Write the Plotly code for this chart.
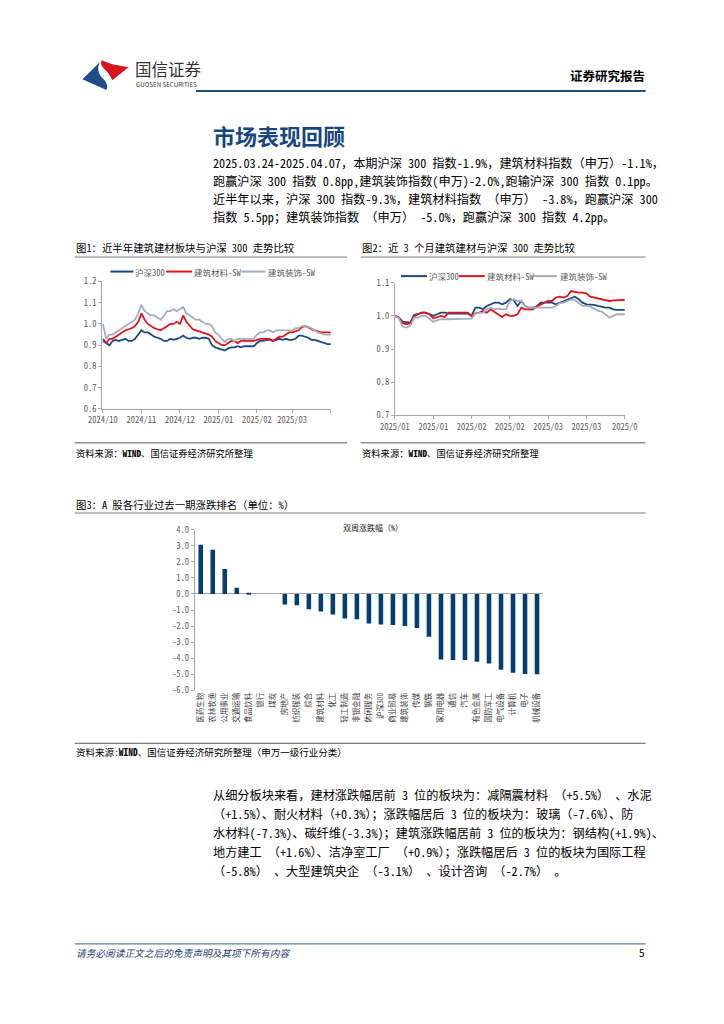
import plotly.graph_objects as go

W, H = 724, 1024
FONT = "Noto Sans CJK SC"
MONO = "Noto Sans Mono CJK SC, Noto Sans CJK SC"


def px(x):
    return x / W


def py(y):
    return 1 - y / H


# ---------------- data ----------------
series_names = ["沪深300", "建筑材料-SW", "建筑装饰-SW"]
series_colors = ["#1B4B7E", "#E0141F", "#A3ADBB"]

# Chart 1: last half year (relative index)
c1_hs300 = [0.93, 0.91, 0.90, 0.92, 0.925, 0.92, 0.925, 0.93, 0.92, 0.92, 0.93, 0.95,
            0.97, 0.96, 0.96, 0.95, 0.94, 0.935, 0.93, 0.92, 0.92, 0.93, 0.925, 0.93,
            0.935, 0.945, 0.935, 0.93, 0.935, 0.935, 0.93, 0.935, 0.935, 0.93, 0.90, 0.89,
            0.885, 0.88, 0.875, 0.885, 0.89, 0.89, 0.895, 0.89, 0.895, 0.895, 0.895, 0.895,
            0.91, 0.92, 0.92, 0.925, 0.925, 0.92, 0.925, 0.93, 0.925, 0.93, 0.925, 0.925,
            0.93, 0.945, 0.945, 0.94, 0.935, 0.925, 0.925, 0.92, 0.915, 0.91, 0.905, 0.905]
c1_jzcl = [0.92, 0.91, 0.93, 0.93, 0.94, 0.95, 0.96, 0.97, 0.975, 0.98, 0.99, 1.01,
           1.05, 1.02, 1.00, 0.99, 0.98, 0.975, 0.97, 0.98, 0.99, 1.00, 1.00, 1.01,
           1.00, 1.04, 1.01, 0.99, 0.975, 0.97, 0.965, 0.96, 0.955, 0.95, 0.94, 0.92,
           0.91, 0.90, 0.90, 0.91, 0.92, 0.92, 0.91, 0.92, 0.92, 0.92, 0.92, 0.92,
           0.925, 0.93, 0.93, 0.93, 0.93, 0.92, 0.93, 0.94, 0.94, 0.95, 0.96, 0.96,
           0.965, 0.97, 0.985, 0.99, 0.985, 0.975, 0.97, 0.965, 0.96, 0.96, 0.96, 0.96]
c1_jzzs = [1.00, 0.93, 0.95, 0.95, 0.96, 0.97, 0.98, 0.99, 1.00, 1.01, 1.02, 1.05,
           1.09, 1.06, 1.05, 1.04, 1.04, 1.03, 1.02, 1.04, 1.06, 1.06, 1.07, 1.06,
           1.07, 1.08, 1.05, 1.04, 1.03, 1.02, 1.02, 1.01, 1.00, 1.00, 0.99, 0.96,
           0.95, 0.93, 0.915, 0.93, 0.93, 0.92, 0.93, 0.93, 0.93, 0.93, 0.93, 0.93,
           0.95, 0.96, 0.96, 0.97, 0.97, 0.96, 0.97, 0.97, 0.97, 0.97, 0.97, 0.97,
           0.98, 0.98, 0.99, 0.99, 0.985, 0.98, 0.97, 0.96, 0.955, 0.95, 0.95, 0.95]
c1_tickidx = [0, 12, 24, 36, 48, 59, 71]
c1_ticktext = ["2024/10", "2024/11", "2024/12", "2025/01", "2025/02", "2025/03", ""]
c1_yvals = [0.6, 0.7, 0.8, 0.9, 1.0, 1.1, 1.2]

# Chart 2: last 3 months (relative index)
c2_hs300 = [1.000, 0.995, 0.983, 0.982, 0.980, 1.003, 1.005, 1.010, 1.010, 1.005, 1.000,
            1.005, 1.010, 1.010, 1.007, 1.007, 1.007, 1.007, 1.007, 1.007, 1.000, 1.025,
            1.025, 1.020, 1.030, 1.035, 1.040, 1.040, 1.035, 1.040, 1.050, 1.048, 1.030,
            1.045, 1.030, 1.025, 1.025, 1.028, 1.040, 1.040, 1.040, 1.040, 1.035, 1.040,
            1.045, 1.050, 1.055, 1.058, 1.050, 1.040, 1.035, 1.035, 1.033, 1.030, 1.027,
            1.025, 1.025, 1.020, 1.018, 1.018, 1.018]
c2_jzcl = [1.000, 0.995, 0.978, 0.975, 0.978, 0.998, 1.005, 1.010, 1.010, 1.005, 0.992,
           0.995, 1.000, 0.997, 1.010, 1.010, 1.010, 1.010, 1.010, 1.010, 1.000, 1.008,
           1.010, 1.015, 1.010, 1.020, 1.012, 1.005, 0.997, 1.005, 1.000, 1.000, 1.005,
           1.025, 1.020, 1.020, 1.020, 1.028, 1.035, 1.040, 1.045, 1.045, 1.055, 1.058,
           1.055, 1.060, 1.075, 1.072, 1.070, 1.070, 1.068, 1.058, 1.055, 1.052, 1.050,
           1.048, 1.045, 1.047, 1.048, 1.048, 1.048]
c2_jzzs = [1.000, 0.993, 0.968, 0.965, 0.970, 0.995, 0.995, 1.000, 1.000, 0.990, 0.982,
           0.987, 0.990, 0.990, 0.990, 0.990, 0.990, 0.990, 0.990, 0.990, 0.992, 1.008,
           1.010, 1.010, 1.020, 1.025, 1.020, 1.022, 1.020, 1.020, 1.045, 1.050, 1.045,
           1.045, 1.030, 1.025, 1.025, 1.025, 1.025, 1.025, 1.025, 1.025, 1.030, 1.038,
           1.040, 1.045, 1.050, 1.048, 1.038, 1.030, 1.030, 1.028, 1.022, 1.015, 1.013,
           1.005, 0.995, 1.000, 1.005, 1.005, 1.005]
c2_tickidx = [0, 10, 20, 30, 40, 50, 60]
c2_ticktext = ["2025/01", "2025/01", "2025/02", "2025/02", "2025/03", "2025/03", "2025/0"]
c2_yvals = [0.7, 0.8, 0.9, 1.0, 1.1]

# Chart 3: industry two-week change (%)
c3_industries = ["医药生物", "农林牧渔", "公用事业", "交通运输", "食品饮料", "银行", "煤炭",
                 "房地产", "纺织服装", "综合", "建筑材料", "化工", "轻工制造", "非银金融",
                 "休闲服务", "沪深300", "商业贸易", "建筑装饰", "传媒", "钢铁", "家用电器",
                 "通信", "汽车", "有色金属", "国防军工", "电气设备", "计算机", "电子", "机械设备"]
c3_values = [3.07, 2.76, 1.55, 0.39, 0.08, 0.0, 0.0,
             -0.66, -0.70, -0.95, -1.10, -1.28, -1.53, -1.57,
             -1.84, -1.90, -1.93, -2.00, -2.13, -2.67, -4.08,
             -4.12, -4.12, -4.22, -4.33, -4.72, -4.91, -4.99, -5.01]
c3_yvals = [4, 3, 2, 1, 0, -1, -2, -3, -4, -5, -6]

# ---------------- figure ----------------
fig = go.Figure()

c1_series = [c1_hs300, c1_jzcl, c1_jzzs]
c2_series = [c2_hs300, c2_jzcl, c2_jzzs]
for name, col, vals in zip(series_names, series_colors, c1_series):
    fig.add_trace(go.Scatter(x=list(range(len(vals))), y=vals, name=name, mode="lines",
                             line=dict(color=col, width=1.8), xaxis="x", yaxis="y",
                             showlegend=False))
for name, col, vals in zip(series_names, series_colors, c2_series):
    fig.add_trace(go.Scatter(x=list(range(len(vals))), y=vals, name=name, mode="lines",
                             line=dict(color=col, width=1.8), xaxis="x2", yaxis="y2",
                             showlegend=False))
fig.add_trace(go.Bar(x=c3_industries, y=c3_values, marker=dict(color="#033E73", line=dict(width=0)),
                     width=0.38, xaxis="x3", yaxis="y3", showlegend=False))

AX = "#A6A6A6"
TICKF = dict(family=MONO, size=8.5, color="#595959")


def fmt(v, nd=1):
    return f"{v:.{nd}f}"


common_x = dict(showline=True, linecolor=AX, linewidth=1, ticks="outside", ticklen=3,
                tickcolor=AX, showgrid=False, zeroline=False, tickfont=TICKF, fixedrange=True)
common_y = dict(showline=True, linecolor=AX, linewidth=1, ticks="outside", ticklen=3,
                tickcolor=AX, showgrid=False, tickfont=TICKF, fixedrange=True)

fig.update_layout(
    width=W, height=H, margin=dict(l=0, r=0, t=0, b=0, pad=0), autosize=False,
    paper_bgcolor="white", plot_bgcolor="rgba(0,0,0,0)",
    font=dict(family=FONT, color="#000000"),
    xaxis=dict(domain=[px(90.7), px(328.3)], range=[-0.2, 71.1], anchor="y",
               tickvals=c1_tickidx, ticktext=c1_ticktext, **common_x),
    yaxis=dict(domain=[py(406.7), py(277.7)], range=[0.6, 1.2], anchor="x",
               tickvals=c1_yvals, ticktext=[fmt(v) for v in c1_yvals], zeroline=False, **common_y),
    xaxis2=dict(domain=[px(394.7), px(633.7)], range=[0, 60.1], anchor="y2",
                tickvals=c2_tickidx, ticktext=c2_ticktext, **common_x),
    yaxis2=dict(domain=[py(413.3), py(279)], range=[0.7, 1.1], anchor="x2",
                tickvals=c2_yvals, ticktext=[fmt(v) for v in c2_yvals], zeroline=False, **common_y),
    xaxis3=dict(domain=[px(186.7), px(548.5)], range=[-0.5, 28.5], anchor="y3", type="category",
                showline=False, ticks="", showgrid=False, zeroline=False, tickangle=-90,
                tickfont=dict(family=MONO, size=7.5, color="#404040"), fixedrange=True),
    yaxis3=dict(domain=[py(691.3), py(529)], range=[-6, 4], anchor="x3",
                tickvals=c3_yvals, ticktext=[fmt(v) for v in c3_yvals],
                zeroline=True, zerolinecolor=AX, zerolinewidth=1, **common_y),
)

# ---------------- page decorations ----------------
shapes = []
annos = []


def hline(x0, x1, y, color, width=1):
    shapes.append(dict(type="line", xref="paper", yref="paper", x0=px(x0), x1=px(x1),
                       y0=py(y), y1=py(y), line=dict(color=color, width=width)))


def text(x, y, s, size, color="#000000", anchor="left", bold=False, italic=False, family=MONO):
    if bold:
        s = f"<b>{s}</b>"
    if italic:
        s = f"<i>{s}</i>"
    annos.append(dict(xref="paper", yref="paper", x=px(x), y=py(y), text=s, showarrow=False,
                      xanchor=anchor, yanchor="middle", borderpad=0,
                      font=dict(family=family, size=size, color=color)))


def path(points_cmds, color):
    out = []
    for tok in points_cmds:
        if isinstance(tok, str):
            out.append(tok)
        else:
            out.append(f"{px(tok[0]):.5f},{py(tok[1]):.5f}")
    shapes.append(dict(type="path", xref="paper", yref="paper", path=" ".join(out),
                       fillcolor=color, line=dict(width=0)))


def legend_row(y, entries):
    # entries: (line_x0, line_x1, text_x, label, color)
    for x0, x1, tx, label, col in entries:
        hline(x0, x1, y, col, 2)
        text(tx, y, label, 8.5, "#595959")


# logo
path(["M", (70, 73), "L", (88, 56), "Q", (84, 65), (90, 71), "Q", (98, 78), (95, 84), "Z"], "#1D4E8A")
path(["M", (90, 54), "L", (101, 58), "L", (118, 61), "L", (101, 74), "Q", (98, 67), (93, 63),
      "Q", (88, 59), (90, 54), "Z"], "#D9121F")
text(124, 63, "国信证券", 16.5, "#333333", family=FONT)
text(125, 78, "GUOSEN SECURITIES", 6.2, "#333333", family=FONT)
text(655, 69, "证券研究报告", 12.5, "#000000", anchor="right", bold=True, family=FONT)
hline(188, 655, 85, "#1F4E79", 2)

# title + paragraph 1
text(205, 130, "市场表现回顾", 22, "#17467F", bold=True, family=FONT)
p1 = ["2025.03.24-2025.04.07，本期沪深 300 指数-1.9%，建筑材料指数（申万）-1.1%，",
      "跑赢沪深 300 指数 0.8pp,建筑装饰指数(申万)-2.0%,跑输沪深 300 指数 0.1pp。",
      "近半年以来，沪深 300 指数-9.3%，建筑材料指数 （申万） -3.8%，跑赢沪深 300",
      "指数 5.5pp；建筑装饰指数 （申万） -5.0%，跑赢沪深 300 指数 4.2pp。"]
for i, line in enumerate(p1):
    text(205, 158 + 18 * i, line, 12.2)

# chart 1 / 2 frames
text(62, 243, "图1：近半年建筑建材板块与沪深 300 走势比较", 10.4)
hline(62, 345, 253, "#7F7F7F")
legend_row(267.7, [(99, 123, 124, series_names[0], series_colors[0]),
                   (157, 184, 185, series_names[1], series_colors[1]),
                   (235, 260, 262, series_names[2], series_colors[2])])
hline(62, 345, 441, "#595959")
text(62, 451, "资料来源：<b>WIND</b>、国信证券经济研究所整理", 9.3)

text(359, 243, "图2：近 3 个月建筑建材与沪深 300 走势比较", 10.4)
hline(359, 655, 253, "#7F7F7F")
legend_row(272.3, [(401, 428, 429, series_names[0], series_colors[0]),
                   (461, 488, 489, series_names[1], series_colors[1]),
                   (538, 563, 565, series_names[2], series_colors[2])])
hline(359, 655, 441, "#595959")
text(359, 451, "资料来源：<b>WIND</b>、国信证券经济研究所整理", 9.3)

# chart 3 frame
text(62, 503, "图3：A 股各行业过去一期涨跌排名（单位：%）", 10.4)
hline(62, 655, 512, "#7F7F7F")
text(372, 527, "双周涨跌幅（%）", 8, "#222222", anchor="center")
hline(62, 655, 745, "#595959")
text(62, 754, "资料来源:<b>WIND</b>、国信证券经济研究所整理（申万一级行业分类）", 9.5)

# paragraph 2
p2 = ["从细分板块来看，建材涨跌幅居前 3 位的板块为：减隔震材料 （+5.5%） 、水泥",
      "（+1.5%）、耐火材料（+0.3%）；涨跌幅居后 3 位的板块为：玻璃（-7.6%）、防",
      "水材料(-7.3%)、碳纤维(-3.3%)；建筑涨跌幅居前 3 位的板块为：钢结构(+1.9%)、",
      "地方建工 （+1.6%）、洁净室工厂 （+0.9%）；涨跌幅居后 3 位的板块为国际工程",
      "（-5.8%） 、大型建筑央企 （-3.1%） 、设计咨询 （-2.7%） 。"]
for i, line in enumerate(p2):
    text(205, 797 + 19.3 * i, line, 12.2)

# footer
hline(62, 655, 948, "#2E5C8A", 1)
text(62, 957, "请务必阅读正文之后的免责声明及其项下所有内容", 9.7, "#1F3F73", italic=True, family=FONT)
text(655, 957, "5", 10, "#000000", anchor="right", family=FONT)

fig.update_layout(shapes=shapes, annotations=annos)
fig.write_html(
    "out.html",
    config={"responsive": False, "displayModeBar": False},
    post_script=("document.documentElement.style.margin='0';document.body.style.margin='0';"
                 "document.body.style.padding='0';document.documentElement.style.overflow='hidden';"),
)
